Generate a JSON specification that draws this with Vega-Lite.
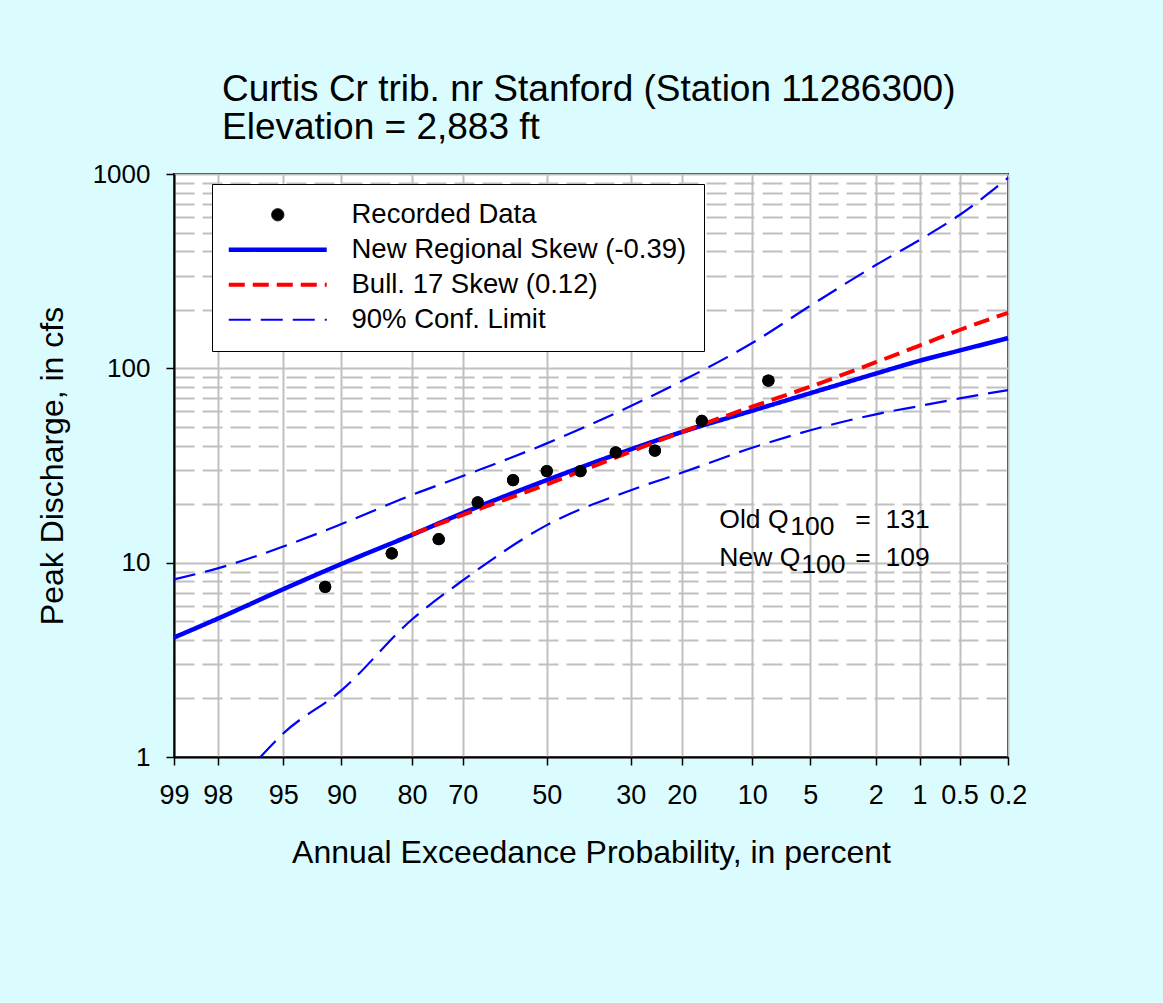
{
  "$schema": "https://vega.github.io/schema/vega-lite/v6.json",
  "width": 834,
  "height": 583,
  "autosize": {"type": "none"},
  "padding": {"left": 174, "top": 174, "right": 155, "bottom": 246},
  "background": "#dafcfe",
  "title": {
    "text": ["Curtis Cr trib. nr Stanford (Station 11286300)", "Elevation = 2,883 ft"],
    "anchor": "start",
    "frame": "group",
    "dx": 48,
    "offset": 14,
    "fontSize": 37,
    "lineHeight": 38,
    "font": "Liberation Sans",
    "fontWeight": "normal",
    "color": "black"
  },
  "config": {
    "view": {"fill": "white", "stroke": "black", "strokeWidth": 2},
    "axis": {
      "labelFont": "Liberation Sans",
      "titleFont": "Liberation Sans",
      "labelColor": "black",
      "titleColor": "black",
      "titleFontWeight": "normal",
      "domainColor": "black",
      "domainWidth": 2,
      "tickColor": "black",
      "tickWidth": 1.5,
      "tickSize": 8,
      "gridColor": "#c0c0c0",
      "gridWidth": 2
    },
    "legend": {"labelFont": "Liberation Sans"}
  },
  "datasets": {
    "points": [
      {"series": "Recorded Data", "p": 91.67, "z": -1.3830, "q": 7.5},
      {"series": "Recorded Data", "p": 83.33, "z": -0.9674, "q": 11.15},
      {"series": "Recorded Data", "p": 75.0, "z": -0.6745, "q": 13.2},
      {"series": "Recorded Data", "p": 66.67, "z": -0.4307, "q": 20.4},
      {"series": "Recorded Data", "p": 58.33, "z": -0.2104, "q": 26.6},
      {"series": "Recorded Data", "p": 50.0, "z": 0.0, "q": 29.6},
      {"series": "Recorded Data", "p": 41.67, "z": 0.2104, "q": 29.6},
      {"series": "Recorded Data", "p": 33.33, "z": 0.4307, "q": 36.9},
      {"series": "Recorded Data", "p": 25.0, "z": 0.6745, "q": 37.7},
      {"series": "Recorded Data", "p": 16.67, "z": 0.9674, "q": 53.6},
      {"series": "Recorded Data", "p": 8.33, "z": 1.3830, "q": 86.5}
    ],
    "curves": [
      {"series": "New Regional Skew (-0.39)", "bound": "estimate", "p": 99, "z": -2.3263, "q": 4.12},
      {"series": "New Regional Skew (-0.39)", "bound": "estimate", "p": 98, "z": -2.0537, "q": 5.15},
      {"series": "New Regional Skew (-0.39)", "bound": "estimate", "p": 95, "z": -1.6449, "q": 7.3},
      {"series": "New Regional Skew (-0.39)", "bound": "estimate", "p": 90, "z": -1.2816, "q": 9.85},
      {"series": "New Regional Skew (-0.39)", "bound": "estimate", "p": 80, "z": -0.8416, "q": 13.9},
      {"series": "New Regional Skew (-0.39)", "bound": "estimate", "p": 70, "z": -0.5244, "q": 18.0},
      {"series": "New Regional Skew (-0.39)", "bound": "estimate", "p": 50, "z": 0.0, "q": 26.6},
      {"series": "New Regional Skew (-0.39)", "bound": "estimate", "p": 30, "z": 0.5244, "q": 38.3},
      {"series": "New Regional Skew (-0.39)", "bound": "estimate", "p": 20, "z": 0.8416, "q": 47.0},
      {"series": "New Regional Skew (-0.39)", "bound": "estimate", "p": 10, "z": 1.2816, "q": 60.5},
      {"series": "New Regional Skew (-0.39)", "bound": "estimate", "p": 5, "z": 1.6449, "q": 74.5},
      {"series": "New Regional Skew (-0.39)", "bound": "estimate", "p": 2, "z": 2.0537, "q": 94.0},
      {"series": "New Regional Skew (-0.39)", "bound": "estimate", "p": 1, "z": 2.3263, "q": 109.4},
      {"series": "New Regional Skew (-0.39)", "bound": "estimate", "p": 0.5, "z": 2.5758, "q": 123.5},
      {"series": "New Regional Skew (-0.39)", "bound": "estimate", "p": 0.2, "z": 2.8782, "q": 143.0},
      {"series": "Bull. 17 Skew (0.12)", "bound": "estimate", "p": 80, "z": -0.8416, "q": 14.0},
      {"series": "Bull. 17 Skew (0.12)", "bound": "estimate", "p": 70, "z": -0.5244, "q": 17.6},
      {"series": "Bull. 17 Skew (0.12)", "bound": "estimate", "p": 50, "z": 0.0, "q": 25.3},
      {"series": "Bull. 17 Skew (0.12)", "bound": "estimate", "p": 30, "z": 0.5244, "q": 37.3},
      {"series": "Bull. 17 Skew (0.12)", "bound": "estimate", "p": 20, "z": 0.8416, "q": 47.0},
      {"series": "Bull. 17 Skew (0.12)", "bound": "estimate", "p": 10, "z": 1.2816, "q": 63.5},
      {"series": "Bull. 17 Skew (0.12)", "bound": "estimate", "p": 5, "z": 1.6449, "q": 80.5},
      {"series": "Bull. 17 Skew (0.12)", "bound": "estimate", "p": 2, "z": 2.0537, "q": 107.5},
      {"series": "Bull. 17 Skew (0.12)", "bound": "estimate", "p": 1, "z": 2.3263, "q": 131.0},
      {"series": "Bull. 17 Skew (0.12)", "bound": "estimate", "p": 0.5, "z": 2.5758, "q": 157.5},
      {"series": "Bull. 17 Skew (0.12)", "bound": "estimate", "p": 0.2, "z": 2.8782, "q": 193.0},
      {"series": "90% Conf. Limit", "bound": "upper", "p": 99, "z": -2.3263, "q": 8.2},
      {"series": "90% Conf. Limit", "bound": "upper", "p": 98, "z": -2.0537, "q": 9.35},
      {"series": "90% Conf. Limit", "bound": "upper", "p": 95, "z": -1.6449, "q": 12.1},
      {"series": "90% Conf. Limit", "bound": "upper", "p": 90, "z": -1.2816, "q": 15.8},
      {"series": "90% Conf. Limit", "bound": "upper", "p": 80, "z": -0.8416, "q": 22.3},
      {"series": "90% Conf. Limit", "bound": "upper", "p": 70, "z": -0.5244, "q": 27.9},
      {"series": "90% Conf. Limit", "bound": "upper", "p": 50, "z": 0.0, "q": 41.1},
      {"series": "90% Conf. Limit", "bound": "upper", "p": 30, "z": 0.5244, "q": 64.0},
      {"series": "90% Conf. Limit", "bound": "upper", "p": 20, "z": 0.8416, "q": 86.0},
      {"series": "90% Conf. Limit", "bound": "upper", "p": 10, "z": 1.2816, "q": 135.0},
      {"series": "90% Conf. Limit", "bound": "upper", "p": 5, "z": 1.6449, "q": 210.0},
      {"series": "90% Conf. Limit", "bound": "upper", "p": 2, "z": 2.0537, "q": 340.0},
      {"series": "90% Conf. Limit", "bound": "upper", "p": 1, "z": 2.3263, "q": 458.0},
      {"series": "90% Conf. Limit", "bound": "upper", "p": 0.5, "z": 2.5758, "q": 615.0},
      {"series": "90% Conf. Limit", "bound": "upper", "p": 0.2, "z": 2.8782, "q": 955.0},
      {"series": "90% Conf. Limit", "bound": "lower", "p": 96.3, "z": -1.787, "q": 1.0},
      {"series": "90% Conf. Limit", "bound": "lower", "p": 95, "z": -1.6449, "q": 1.32},
      {"series": "90% Conf. Limit", "bound": "lower", "p": 90, "z": -1.2816, "q": 2.2},
      {"series": "90% Conf. Limit", "bound": "lower", "p": 80, "z": -0.8416, "q": 5.1},
      {"series": "90% Conf. Limit", "bound": "lower", "p": 70, "z": -0.5244, "q": 8.1},
      {"series": "90% Conf. Limit", "bound": "lower", "p": 50, "z": 0.0, "q": 15.6},
      {"series": "90% Conf. Limit", "bound": "lower", "p": 30, "z": 0.5244, "q": 23.6},
      {"series": "90% Conf. Limit", "bound": "lower", "p": 20, "z": 0.8416, "q": 29.0},
      {"series": "90% Conf. Limit", "bound": "lower", "p": 10, "z": 1.2816, "q": 39.0},
      {"series": "90% Conf. Limit", "bound": "lower", "p": 5, "z": 1.6449, "q": 48.0},
      {"series": "90% Conf. Limit", "bound": "lower", "p": 2, "z": 2.0537, "q": 58.0},
      {"series": "90% Conf. Limit", "bound": "lower", "p": 1, "z": 2.3263, "q": 64.0},
      {"series": "90% Conf. Limit", "bound": "lower", "p": 0.5, "z": 2.5758, "q": 70.0},
      {"series": "90% Conf. Limit", "bound": "lower", "p": 0.2, "z": 2.8782, "q": 77.3}
    ],
    "notes": [
      {"z": 1.0767, "q": 15.06, "head": "Old Q", "sub": "100", "tail": "=\u00a0\u00a0131"},
      {"z": 1.0767, "q": 9.6, "head": "New Q", "sub": "100", "tail": "=\u00a0\u00a0109"}
    ]
  },
  "encoding": {
    "x": {
      "field": "z",
      "type": "quantitative",
      "scale": {"domain": [-2.3263, 2.8782], "nice": false, "zero": false},
      "axis": {
        "title": "Annual Exceedance Probability, in percent",
        "titleFontSize": 32,
        "titlePadding": 29,
        "labelFontSize": 27,
        "labelPadding": 17,
        "values": [-2.3263, -2.0537, -1.6449, -1.2816, -0.8416, -0.5244, 0, 0.5244, 0.8416, 1.2816, 1.6449, 2.0537, 2.3263, 2.5758, 2.8782],
        "labelExpr": "format(round(1000 * (1 - cumulativeNormal(datum.value))) / 10, '')",
        "labelFlush": false,
        "labelOverlap": false
      }
    },
    "y": {
      "field": "q",
      "type": "quantitative",
      "scale": {"type": "log", "domain": [1, 1000], "nice": false},
      "axis": {
        "title": "Peak Discharge, in cfs",
        "titleFontSize": 32,
        "titlePadding": 23,
        "labelFontSize": 26,
        "labelPadding": 16,
        "labelOverlap": false,
        "labelFlush": false,
        "values": [1, 2, 3, 4, 5, 6, 7, 8, 9, 10, 20, 30, 40, 50, 60, 70, 80, 90, 100, 200, 300, 400, 500, 600, 700, 800, 900, 1000],
        "labelExpr": "indexof([1, 10, 100, 1000], datum.value) >= 0 ? toString(datum.value) : ''",
        "tickOpacity": {"condition": {"test": "indexof([1, 10, 100, 1000], datum.value) >= 0", "value": 1}, "value": 0},
        "gridDash": {"condition": {"test": "indexof([1, 10, 100, 1000], datum.value) >= 0", "value": []}, "value": [20, 8]}
      }
    }
  },
  "layer": [
    {
      "data": {"name": "points"},
      "mark": {"type": "point", "filled": true, "opacity": 1, "size": 150},
      "encoding": {
        "color": {
          "field": "series",
          "type": "nominal",
          "scale": {
            "domain": ["Recorded Data", "New Regional Skew (-0.39)", "Bull. 17 Skew (0.12)", "90% Conf. Limit"],
            "range": ["black", "#0000ff", "#ff0000", "#0000ff"]
          },
          "legend": {
            "orient": "none",
            "legendX": 38,
            "legendY": 10,
            "title": null,
            "fillColor": "white",
            "strokeColor": "black",
            "padding": 17,
            "labelFontSize": 27.5,
            "labelColor": "black",
            "symbolOffset": 35,
            "symbolSize": 150,
            "labelOffset": 60,
            "labelLimit": 600,
            "rowPadding": 6,
            "symbolOpacity": 1
          }
        },
        "shape": {
          "field": "series",
          "type": "nominal",
          "scale": {
            "domain": ["Recorded Data", "New Regional Skew (-0.39)", "Bull. 17 Skew (0.12)", "90% Conf. Limit"],
            "range": ["circle", "M-8,0H8", "M-8,0H8", "M-8,0H8"]
          },
          "legend": {"title": null}
        }
      }
    },
    {
      "data": {"name": "curves"},
      "mark": {"type": "line", "interpolate": "monotone"},
      "encoding": {
        "color": {"field": "series", "type": "nominal"},
        "detail": {"field": "bound", "type": "nominal"},
        "strokeDash": {
          "field": "series",
          "type": "nominal",
          "scale": {
            "domain": ["Recorded Data", "New Regional Skew (-0.39)", "Bull. 17 Skew (0.12)", "90% Conf. Limit"],
            "range": [[1, 0], [1, 0], [16, 8], [22, 10]]
          },
          "legend": {"title": null}
        },
        "strokeWidth": {
          "field": "series",
          "type": "nominal",
          "scale": {
            "type": "ordinal",
            "domain": ["Recorded Data", "New Regional Skew (-0.39)", "Bull. 17 Skew (0.12)", "90% Conf. Limit"],
            "range": [1, 4.5, 4, 2.2]
          },
          "legend": {"title": null}
        }
      }
    },
    {
      "data": {"name": "points"},
      "mark": {"type": "circle", "size": 150, "opacity": 1, "color": "black"}
    },
    {
      "data": {"name": "notes"},
      "mark": {"type": "text", "align": "left", "baseline": "alphabetic", "font": "Liberation Sans", "fontSize": 26.5, "color": "black"},
      "encoding": {"text": {"field": "head"}}
    },
    {
      "data": {"name": "notes"},
      "transform": [{"filter": "datum.head === 'Old Q'"}],
      "mark": {"type": "text", "align": "left", "baseline": "alphabetic", "font": "Liberation Sans", "fontSize": 26.5, "dx": 71, "dy": 7, "color": "black"},
      "encoding": {"text": {"field": "sub"}}
    },
    {
      "data": {"name": "notes"},
      "transform": [{"filter": "datum.head === 'New Q'"}],
      "mark": {"type": "text", "align": "left", "baseline": "alphabetic", "font": "Liberation Sans", "fontSize": 26.5, "dx": 82, "dy": 7, "color": "black"},
      "encoding": {"text": {"field": "sub"}}
    },
    {
      "data": {"name": "notes"},
      "mark": {"type": "text", "align": "left", "baseline": "alphabetic", "font": "Liberation Sans", "fontSize": 26.5, "dx": 136, "color": "black"},
      "encoding": {"text": {"field": "tail"}}
    }
  ]
}
